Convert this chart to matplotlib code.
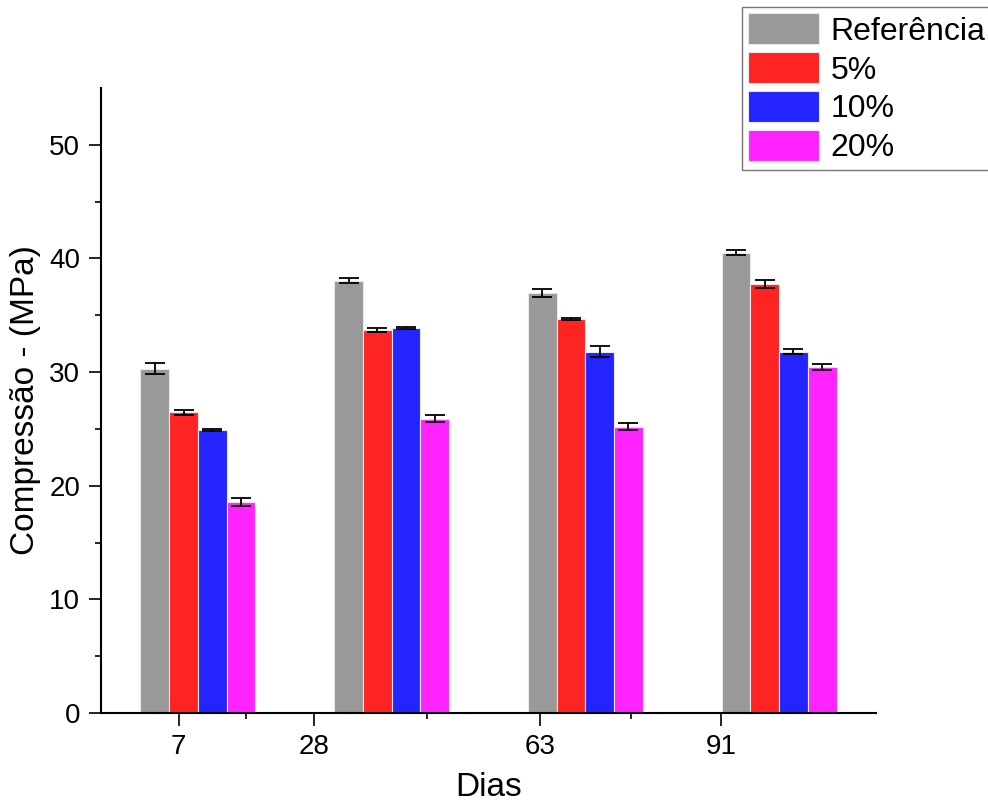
import matplotlib
matplotlib.use("Agg")
import matplotlib.pyplot as plt
import numpy as np
from matplotlib.ticker import FixedLocator

plt.rcParams['font.family'] = ['Liberation Sans', 'DejaVu Sans']

# Data
group_x = [10, 40, 70, 100]
tick_values = [7, 28, 63, 91]
tick_labels = ["7", "28", "63", "91"]
minor_ticks = [17.5, 45.5, 77]
series = ["Referência", "5%", "10%", "20%"]
referencia = [30.28, 38.05, 36.97, 40.52]
ref_err = [0.48, 0.20, 0.35, 0.26]
p5 = [26.47, 33.70, 34.65, 37.76]
p5_err = [0.23, 0.15, 0.10, 0.34]
p10 = [24.88, 33.86, 31.80, 31.80]
p10_err = [0.10, 0.08, 0.48, 0.22]
p20 = [18.57, 25.90, 25.20, 30.43]
p20_err = [0.32, 0.33, 0.30, 0.25]
colors = ["#999999", "#ff2424", "#2424ff", "#ff24ff"]

values = [referencia, p5, p10, p20]
errors = [ref_err, p5_err, p10_err, p20_err]

fig = plt.figure(figsize=(9.88, 8.07), dpi=100)
ax = fig.add_axes([101/988, 1-713/807, (876-101)/988, (713-88)/807])

width = 4.45
offsets = (np.arange(4) - 1.5) * width
handles = []
for i in range(4):
    xs = np.array(group_x) + offsets[i]
    b = ax.bar(xs, values[i], width=width, color=colors[i], edgecolor="#e8e8e8",
               linewidth=0.8, label=series[i], zorder=2)
    handles.append(b)
    ax.errorbar(xs, values[i], yerr=errors[i], fmt='none', ecolor='black',
                elinewidth=1.3, capsize=7, capthick=1.3, zorder=3)

ax.set_xlim(-5, 115)
ax.set_ylim(0, 55)
ax.set_xticks(tick_values)
ax.set_xticklabels(tick_labels)
ax.xaxis.set_minor_locator(FixedLocator(minor_ticks))
ax.set_yticks([0, 10, 20, 30, 40, 50])
ax.yaxis.set_minor_locator(FixedLocator([5, 15, 25, 35, 45]))

for s in ["top", "right"]:
    ax.spines[s].set_visible(False)
for s in ["left", "bottom"]:
    ax.spines[s].set_linewidth(1.5)

ax.tick_params(axis='both', which='major', direction='out', length=9, width=1.2,
               labelsize=20, pad=6)
ax.tick_params(axis='both', which='minor', direction='out', length=4.5, width=1.2)

ax.set_xlabel("Dias", fontsize=24, labelpad=9)
ax.set_ylabel("Compressão - (MPa)", fontsize=24, labelpad=6)

leg = fig.legend(handles=handles, labels=series, loc='upper left',
                 bbox_to_anchor=(742/988, 1-7/807), bbox_transform=fig.transFigure,
                 fontsize=23, frameon=True, fancybox=False, borderaxespad=0,
                 handlelength=2.2, handleheight=1.1, labelspacing=0.18,
                 borderpad=0.2, handletextpad=0.37)
leg.get_frame().set_edgecolor('#555555')
leg.get_frame().set_linewidth(1.0)

fig.savefig("out.png", dpi=100)
